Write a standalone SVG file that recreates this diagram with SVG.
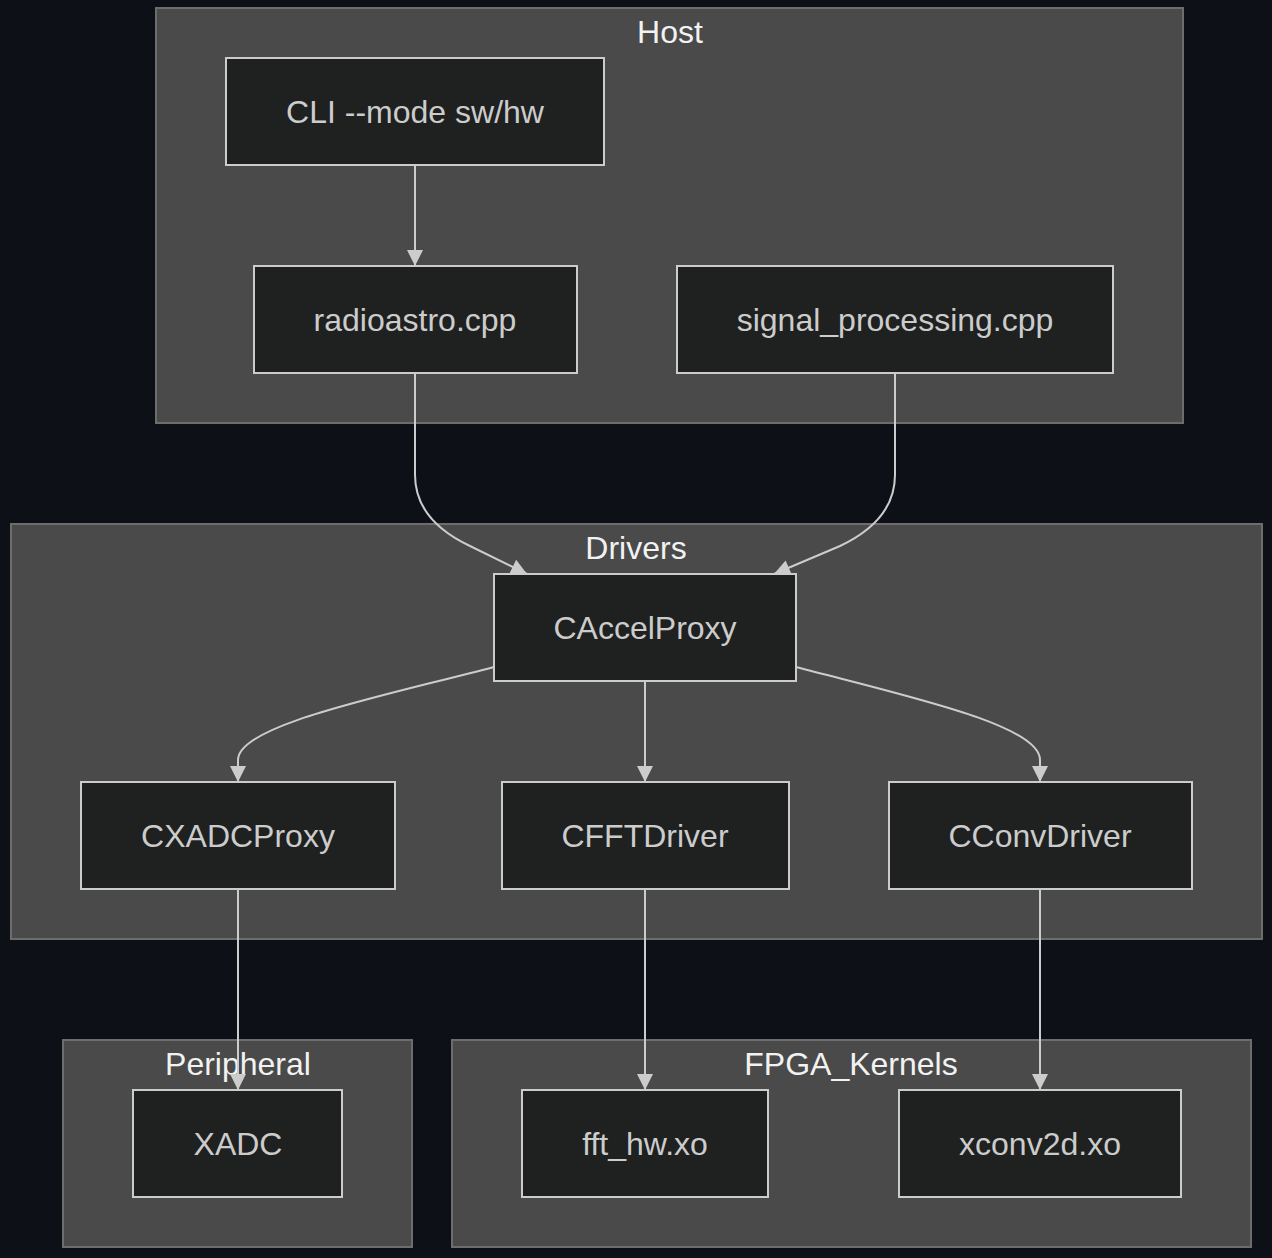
<svg xmlns="http://www.w3.org/2000/svg" width="1272" height="1258" viewBox="0 0 1272 1258">
<style>
.cluster{fill:#494a49;stroke:#6c6d6c;stroke-width:2}
.ctitle{font-family:"Liberation Sans",Arial,sans-serif;font-size:32px;fill:#f2f2f2;text-anchor:middle}
.node rect{fill:#1f2020;stroke:#cccccc;stroke-width:2}
.node text{font-family:"Liberation Sans",Arial,sans-serif;font-size:32px;fill:#cccccc;text-anchor:middle}
.edge{fill:none;stroke:#cccccc;stroke-width:2;marker-end:url(#arr)}
</style>
<defs>
<marker id="arr" markerUnits="userSpaceOnUse" markerWidth="18" markerHeight="18" viewBox="0 0 18 18" refX="17" refY="9" orient="auto">
<path d="M1,1 L17,9 L1,17 z" fill="#cccccc"/>
</marker>
</defs>
<rect width="1272" height="1258" fill="#0d1117"/>
<g id="clusters">
<g id="Host"><rect class="cluster" x="156" y="8" width="1027" height="415"/><text class="ctitle" x="670" y="43">Host</text></g>
<g id="Drivers"><rect class="cluster" x="11" y="524" width="1251" height="415"/><text class="ctitle" x="636" y="559">Drivers</text></g>
<g id="Peripheral"><rect class="cluster" x="63" y="1040" width="349" height="207"/><text class="ctitle" x="238" y="1075">Peripheral</text></g>
<g id="FPGA_Kernels"><rect class="cluster" x="452" y="1040" width="799" height="207"/><text class="ctitle" x="851" y="1075">FPGA_Kernels</text></g>
</g>
<g id="connectors">
<path class="edge" d="M415,166 L415,266"/>
<path class="edge" d="M415,374 L415,475 Q415,520 470,546 L527,574"/>
<path class="edge" d="M895,374 L895,475 Q895,520 840,546 L774,574"/>
<path class="edge" d="M494,667 C380,697 238,725 238,760 L238,782"/>
<path class="edge" d="M645,682 L645,782"/>
<path class="edge" d="M796,667 C910,697 1040,725 1040,760 L1040,782"/>
<path class="edge" d="M238,890 L238,1090"/>
<path class="edge" d="M645,890 L645,1090"/>
<path class="edge" d="M1040,890 L1040,1090"/>
</g>
<g id="CLI" class="node"><rect x="226" y="58" width="378" height="107"/><text x="415" y="123">CLI --mode sw/hw</text></g>
<g id="radioastro" class="node"><rect x="254" y="266" width="323" height="107"/><text x="415" y="331">radioastro.cpp</text></g>
<g id="signal_processing" class="node"><rect x="677" y="266" width="436" height="107"/><text x="895" y="331">signal_processing.cpp</text></g>
<g id="CAccelProxy" class="node"><rect x="494" y="574" width="302" height="107"/><text x="645" y="639">CAccelProxy</text></g>
<g id="CXADCProxy" class="node"><rect x="81" y="782" width="314" height="107"/><text x="238" y="847">CXADCProxy</text></g>
<g id="CFFTDriver" class="node"><rect x="502" y="782" width="287" height="107"/><text x="645" y="847">CFFTDriver</text></g>
<g id="CConvDriver" class="node"><rect x="889" y="782" width="303" height="107"/><text x="1040" y="847">CConvDriver</text></g>
<g id="XADC" class="node"><rect x="133" y="1090" width="209" height="107"/><text x="238" y="1155">XADC</text></g>
<g id="fft_hw" class="node"><rect x="522" y="1090" width="246" height="107"/><text x="645" y="1155">fft_hw.xo</text></g>
<g id="xconv2d" class="node"><rect x="899" y="1090" width="282" height="107"/><text x="1040" y="1155">xconv2d.xo</text></g>
</svg>
